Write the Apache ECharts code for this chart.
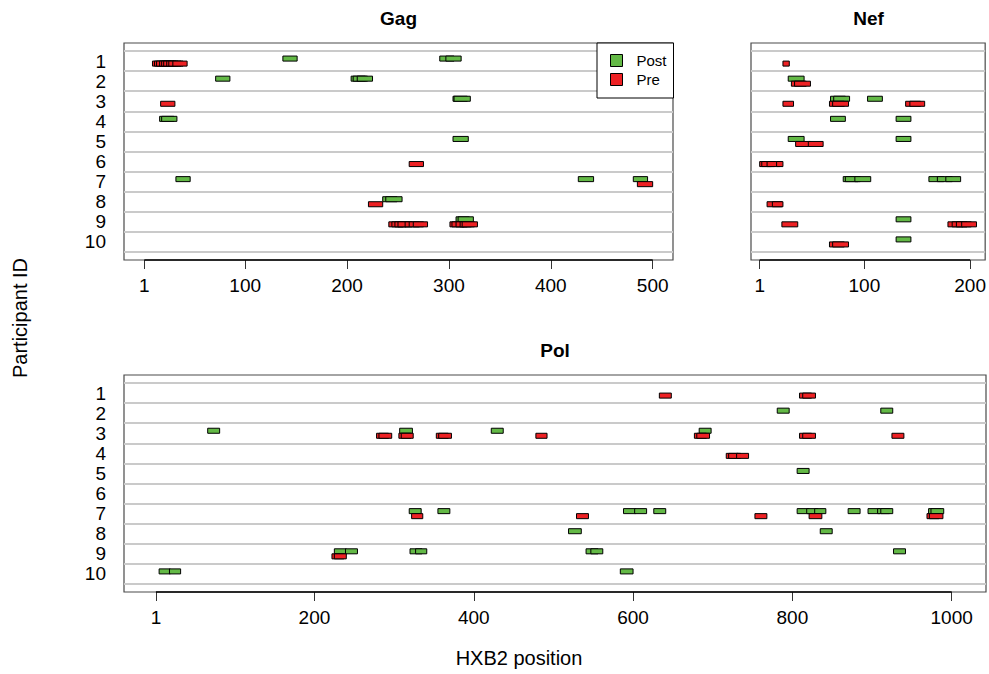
<!DOCTYPE html>
<html>
<head>
<meta charset="utf-8">
<title>Epitope responses by participant</title>
<script src="https://cdn.jsdelivr.net/npm/echarts@6/dist/echarts.min.js"></script>
<style>
html, body { margin: 0; padding: 0; background: #fff; }
#chart { width: 989px; height: 674px; }
</style>
</head>
<body>
<div id="chart"></div>
<script>
// rows and tick labels
var participants = [1, 2, 3, 4, 5, 6, 7, 8, 9, 10];
var rowBounds = [0.5, 1.5, 2.5, 3.5, 4.5, 5.5, 6.5, 7.5, 8.5, 9.5, 10.5];
var gagTicks = [1, 100, 200, 300, 400, 500];
var nefTicks = [1, 100, 200];
var polTicks = [1, 200, 400, 600, 800, 1000];

// epitopes: [participant, start, end] (HXB2 positions)
var gagPost = [
    [1, 137, 151], [1, 291, 305], [1, 297, 312],
    [2, 71, 85], [2, 204, 218], [2, 206, 220], [2, 210, 225],
    [3, 304, 318], [3, 305, 321],
    [4, 16, 30], [4, 18, 33],
    [5, 304, 319],
    [7, 32, 46], [7, 427, 442], [7, 481, 495],
    [8, 235, 249], [8, 238, 254],
    [9, 307, 320], [9, 309, 324]
];
var gagPre = [
    [1, 9, 23], [1, 11, 25], [1, 13, 27], [1, 16, 30], [1, 18, 32], [1, 20, 34], [1, 23, 37], [1, 25, 39], [1, 29, 43],
    [3, 17, 31],
    [6, 261, 275],
    [7, 485, 500],
    [8, 221, 235],
    [9, 241, 255], [9, 244, 258], [9, 247, 261], [9, 250, 264], [9, 257, 271], [9, 261, 275], [9, 265, 279],
    [9, 301, 315], [9, 303, 318], [9, 307, 322], [9, 311, 325], [9, 313, 328]
];
var nefPost = [
    [2, 28, 43],
    [3, 68, 82], [3, 71, 86], [3, 103, 117],
    [4, 68, 82], [4, 130, 144],
    [5, 28, 43], [5, 130, 144],
    [7, 80, 94], [7, 82, 96], [7, 91, 106], [7, 161, 175], [7, 169, 183], [7, 177, 191],
    [9, 130, 144],
    [10, 130, 144]
];
var nefPre = [
    [1, 23, 29],
    [2, 31, 45], [2, 34, 49],
    [3, 23, 33], [3, 67, 81], [3, 70, 85], [3, 139, 153], [3, 143, 157],
    [5, 35, 49], [5, 47, 61],
    [6, 1, 12], [6, 3, 15], [6, 8, 20], [6, 17, 23],
    [8, 8, 22], [8, 13, 23],
    [9, 22, 37], [9, 179, 193], [9, 183, 197], [9, 187, 201], [9, 192, 206],
    [10, 67, 81], [10, 70, 85]
];
var polPost = [
    [2, 781, 796], [2, 911, 926],
    [3, 66, 81], [3, 307, 323], [3, 422, 437], [3, 683, 698],
    [5, 806, 821],
    [7, 319, 334], [7, 355, 370], [7, 588, 603], [7, 602, 617], [7, 626, 641],
    [7, 806, 821], [7, 818, 832], [7, 828, 842], [7, 870, 885],
    [7, 895, 910], [7, 907, 922], [7, 911, 926], [7, 971, 986], [7, 974, 990],
    [8, 519, 535], [8, 835, 850],
    [9, 225, 240], [9, 239, 254], [9, 320, 335], [9, 327, 341], [9, 541, 556], [9, 547, 562], [9, 927, 942],
    [10, 5, 19], [10, 18, 32], [10, 584, 600]
];
var polPre = [
    [1, 633, 648], [1, 809, 824], [1, 813, 829],
    [3, 278, 293], [3, 281, 297], [3, 306, 321], [3, 309, 324], [3, 353, 368], [3, 356, 372],
    [3, 478, 492], [3, 677, 692], [3, 680, 696], [3, 809, 824], [3, 813, 829], [3, 925, 940],
    [4, 717, 732], [4, 720, 735], [4, 730, 745],
    [7, 322, 336], [7, 529, 544], [7, 753, 768], [7, 821, 837], [7, 969, 984], [7, 972, 989],
    [9, 222, 237], [9, 225, 240]
];

var GREEN = '#63b946';
var RED = '#ee2124';
var FONT = '"Liberation Sans", Arial, Helvetica, sans-serif';

var panels = [
    { name: 'Gag', len: 500, ticks: gagTicks, post: gagPost, pre: gagPre, labels: true,
      grid: { left: 124, top: 43, width: 549, height: 217 } },
    { name: 'Nef', len: 206, ticks: nefTicks, post: nefPost, pre: nefPre, labels: false,
      grid: { left: 751, top: 43, width: 235, height: 217 } },
    { name: 'Pol', len: 1003, ticks: polTicks, post: polPost, pre: polPre, labels: true,
      grid: { left: 124, top: 375, width: 862, height: 217 } }
];

function plain(v) {
    return String(v);
}

function barRenderer(offset) {
    return function (params, api) {
        var row = api.value(2);
        var p0 = api.coord([api.value(0), row + offset]);
        var p1 = api.coord([api.value(1), row + offset + 0.25]);
        return {
            type: 'rect',
            shape: {
                x: Math.min(p0[0], p1[0]),
                y: Math.min(p0[1], p1[1]),
                width: Math.abs(p1[0] - p0[0]),
                height: Math.abs(p1[1] - p0[1])
            },
            style: { fill: api.visual('color'), stroke: '#000', lineWidth: 1 }
        };
    };
}

function axisRenderer(params, api) {
    var a = api.coord([api.value(0), 10.9]);
    var b = api.coord([api.value(1), 10.9]);
    var y = params.coordSys.y + params.coordSys.height;
    return {
        type: 'line',
        shape: { x1: a[0], y1: y, x2: b[0], y2: y },
        style: { stroke: '#000', lineWidth: 1.6 }
    };
}

var grids = [], xAxes = [], yAxes = [], series = [], graphics = [];

panels.forEach(function (p, i) {
    var pad = 0.04 * (p.len - 1);
    grids.push({ left: p.grid.left, top: p.grid.top, width: p.grid.width, height: p.grid.height,
        show: true, borderColor: '#4a4a4a', borderWidth: 1.2, backgroundColor: '#fff' });
    xAxes.push({
        type: 'value', gridIndex: i, min: 1 - pad, max: p.len + pad,
        axisLine: { show: false },
        axisTick: { show: true, customValues: p.ticks, length: 9, lineStyle: { color: '#333', width: 1 } },
        axisLabel: { customValues: p.ticks, formatter: plain, fontSize: 19, color: '#000', margin: 16, fontFamily: FONT },
        splitLine: { show: false }
    });
    yAxes.push({
        type: 'value', gridIndex: i, min: 0.1, max: 10.9, inverse: true,
        axisLine: { show: false },
        axisTick: { show: false, customValues: rowBounds },
        axisLabel: { show: p.labels, customValues: participants, formatter: plain, fontSize: 19, color: '#000', margin: 18, fontFamily: FONT },
        splitLine: { show: true, lineStyle: { color: '#cacaca', width: 2 } }
    });
    series.push({
        type: 'custom', name: 'Post', xAxisIndex: i, yAxisIndex: i,
        itemStyle: { color: GREEN },
        renderItem: barRenderer(-0.25),
        data: p.post.map(function (d) { return [d[1], d[2], d[0]]; }),
        animation: false
    });
    series.push({
        type: 'custom', name: 'Pre', xAxisIndex: i, yAxisIndex: i,
        itemStyle: { color: RED },
        renderItem: barRenderer(0),
        data: p.pre.map(function (d) { return [d[1], d[2], d[0]]; }),
        animation: false
    });
    series.push({
        type: 'custom', name: p.name + ' axis', xAxisIndex: i, yAxisIndex: i,
        silent: true, clip: false,
        renderItem: axisRenderer,
        data: [[p.ticks[0], p.ticks[p.ticks.length - 1]]],
        animation: false
    });
    graphics.push({
        type: 'text', x: p.grid.left + p.grid.width / 2, y: p.grid.top - 25,
        style: { text: p.name, font: 'bold 19px ' + FONT, textAlign: 'center', textVerticalAlign: 'middle', fill: '#000' }
    });
});

graphics.push({
    type: 'text', x: 20, y: 318, rotation: Math.PI / 2,
    style: { text: 'Participant ID', font: '20px ' + FONT, textAlign: 'center', textVerticalAlign: 'middle', fill: '#000' }
});
graphics.push({
    type: 'text', x: 519, y: 658,
    style: { text: 'HXB2 position', font: '20px ' + FONT, textAlign: 'center', textVerticalAlign: 'middle', fill: '#000' }
});

var chart = echarts.init(document.getElementById('chart'), null, { renderer: 'svg' });
chart.setOption({
    backgroundColor: '#fff',
    animation: false,
    grid: grids,
    xAxis: xAxes,
    yAxis: yAxes,
    legend: {
        data: ['Post', 'Pre'],
        orient: 'vertical', left: 597, top: 43,
        icon: 'rect', itemWidth: 12, itemHeight: 12, itemGap: 4,
        padding: [10, 7, 11, 13],
        backgroundColor: '#fff', borderColor: '#000', borderWidth: 1,
        selectedMode: false,
        itemStyle: { borderColor: '#000', borderWidth: 1 },
        textStyle: { fontSize: 15, lineHeight: 15, color: '#000', fontFamily: FONT, padding: [0, 0, 0, 9] }
    },
    graphic: graphics,
    series: series
});
</script>
</body>
</html>
